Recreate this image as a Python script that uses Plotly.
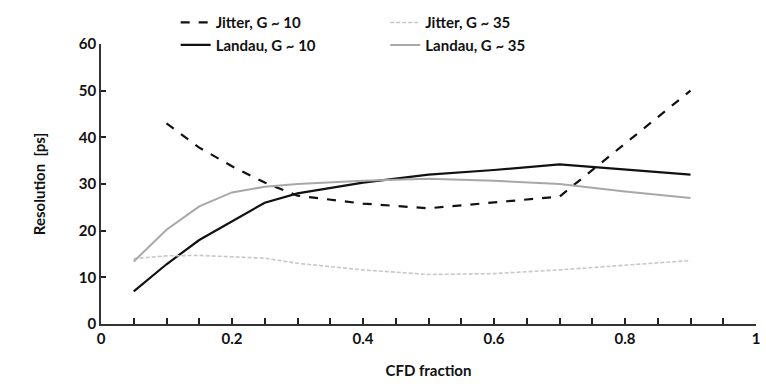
import plotly.graph_objects as go

x_jit10 = [0.1, 0.15, 0.2, 0.25, 0.3, 0.4, 0.5, 0.6, 0.7, 0.9]
y_jit10 = [43, 37.8, 33.8, 30.3, 27.5, 25.8, 24.8, 26.0, 27.3, 50]

x_lan10 = [0.05, 0.1, 0.15, 0.2, 0.25, 0.3, 0.4, 0.5, 0.6, 0.7, 0.8, 0.9]
y_lan10 = [7, 12.8, 18, 22, 26, 28, 30.3, 32, 33, 34.2, 33.1, 32]

x_jit35 = [0.05, 0.1, 0.15, 0.2, 0.25, 0.3, 0.4, 0.5, 0.6, 0.7, 0.8, 0.9]
y_jit35 = [14, 14.6, 14.7, 14.4, 14.1, 13, 11.6, 10.6, 10.8, 11.6, 12.6, 13.6]

x_lan35 = [0.05, 0.1, 0.15, 0.2, 0.25, 0.3, 0.4, 0.5, 0.6, 0.7, 0.8, 0.9]
y_lan35 = [13.4, 20.2, 25.2, 28.2, 29.4, 30, 30.7, 31.1, 30.7, 30, 28.4, 27]

x_ticks = [0, 0.2, 0.4, 0.6, 0.8, 1]
x_ticktext = ["0", "0.2", "0.4", "0.6", "0.8", "1"]
x_minor = [0.05, 0.1, 0.15, 0.25, 0.3, 0.35, 0.45, 0.5, 0.55, 0.65, 0.7, 0.75, 0.85, 0.9, 0.95]
y_ticks = [0, 10, 20, 30, 40, 50, 60]

FONT = "Lato"

fig = go.Figure()
fig.add_trace(go.Scatter(x=x_jit10, y=y_jit10, mode="lines", name="Jitter, G ~ 10",
                         line=dict(color="#111111", width=2.2, dash="dash"), legend="legend"))
fig.add_trace(go.Scatter(x=x_lan10, y=y_lan10, mode="lines", name="Landau, G ~ 10",
                         line=dict(color="#111111", width=2.2), legend="legend"))
fig.add_trace(go.Scatter(x=x_jit35, y=y_jit35, mode="lines", name="Jitter, G ~ 35",
                         line=dict(color="#c8c8c8", width=1.6, dash="4px,2px"), legend="legend2"))
fig.add_trace(go.Scatter(x=x_lan35, y=y_lan35, mode="lines", name="Landau, G ~ 35",
                         line=dict(color="#a8a8a8", width=2), legend="legend2"))

legend_common = dict(font=dict(family=FONT, size=15, color="#111111", weight="bold"),
                     bgcolor="rgba(0,0,0,0)", itemwidth=30, tracegroupgap=0,
                     xanchor="left", yanchor="top", orientation="v")

fig.update_layout(
    width=766, height=389,
    margin=dict(l=101, r=6, t=35, b=65),
    plot_bgcolor="white", paper_bgcolor="white",
    font=dict(family=FONT, size=15, color="#111111"),
    showlegend=True,
    legend=dict(x=0.114, y=1.135, **legend_common),
    legend2=dict(x=0.434, y=1.135, **legend_common),
    xaxis=dict(range=[0, 1], tickmode="array", tickvals=x_ticks, ticktext=x_ticktext,
               showgrid=False, zeroline=False, showline=True, linecolor="#333333", linewidth=1.5,
               ticks="inside", ticklen=6, tickcolor="#222222", tickwidth=1.5,
               minor=dict(tickmode="array", tickvals=x_minor, ticks="inside", ticklen=6,
                          tickcolor="#222222", tickwidth=1.5, showgrid=False),
               tickfont=dict(family=FONT, size=15, color="#111111", weight="bold"),
               title=dict(text="<b>CFD fraction</b>", font=dict(family=FONT, size=15), standoff=20)),
    yaxis=dict(range=[0, 60], tickvals=y_ticks, ticksuffix="\u00a0\u00a0\u00a0\u00a0",
               showgrid=False, zeroline=False, showline=True, linecolor="#333333", linewidth=1.5,
               ticks="inside", ticklen=5, tickcolor="#222222", tickwidth=1.5,
               tickfont=dict(family=FONT, size=15, color="#111111", weight="bold"),
               title=dict(text="<b>Resolution  [ps]</b>", font=dict(family=FONT, size=15), standoff=30)),
)

fig.write_html("out.html")
